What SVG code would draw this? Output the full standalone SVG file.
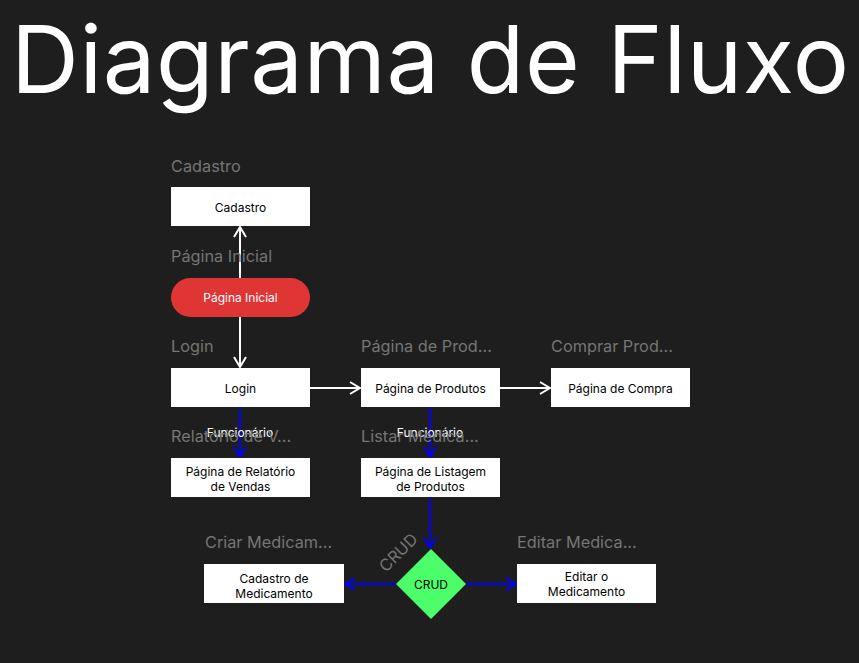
<svg xmlns="http://www.w3.org/2000/svg" width="859" height="663" viewBox="0 0 859 663">
<defs>
<style>
text{font-family:Inter,"Liberation Sans",sans-serif}
.title{font-size:94px;fill:#ffffff}
.cap{font-size:16.3px;fill:#757575}
.nt{font-size:12px;fill:#000000;text-anchor:middle}
.box{fill:#ffffff}
.w{stroke:#ffffff;stroke-width:2;fill:none}
.b{stroke:#0000ff;stroke-width:2;fill:none}
.el{font-size:12px;fill:#ffffff;text-anchor:middle}
</style>
<marker id="aw" viewBox="0 0 12 14" refX="11" refY="7" markerWidth="12" markerHeight="14" markerUnits="userSpaceOnUse" orient="auto">
<path d="M1,1 L11,7 L1,13" fill="none" stroke="#ffffff" stroke-width="2"/>
</marker>
<marker id="ab" viewBox="0 0 12 14" refX="11" refY="7" markerWidth="12" markerHeight="14" markerUnits="userSpaceOnUse" orient="auto">
<path d="M1,1 L11,7 L1,13" fill="none" stroke="#0000ff" stroke-width="2"/>
</marker>
</defs>
<rect width="859" height="663" fill="#1e1e1e"/>
<text class="title" x="11" y="93" textLength="838" lengthAdjust="spacing">Diagrama de Fluxo</text>

<g id="connectors">
<line class="w" x1="240" y1="278" x2="240" y2="227" marker-end="url(#aw)"/>
<line class="w" x1="240" y1="317" x2="240" y2="367" marker-end="url(#aw)"/>
<line class="w" x1="310" y1="388" x2="360" y2="388" marker-end="url(#aw)"/>
<line class="w" x1="500" y1="388" x2="550" y2="388" marker-end="url(#aw)"/>
<line class="b" x1="240" y1="407" x2="240" y2="457" marker-end="url(#ab)"/>
<line class="b" x1="430" y1="407" x2="430" y2="457" marker-end="url(#ab)"/>
<line class="b" x1="430" y1="497" x2="430" y2="548" marker-end="url(#ab)"/>
<line class="b" x1="396" y1="584" x2="345" y2="584" marker-end="url(#ab)"/>
<line class="b" x1="466" y1="584" x2="516" y2="584" marker-end="url(#ab)"/>
<text class="el" x="240" y="437">Funcionário</text>
<text class="el" x="430" y="437">Funcionário</text>
</g>

<g id="cadastro">
<text class="cap" x="171" y="172">Cadastro</text>
<rect class="box" x="171" y="187" width="139" height="39"/>
<text class="nt" x="240.5" y="212">Cadastro</text>
</g>

<g id="pagina-inicial">
<text class="cap" x="171" y="262">Página Inicial</text>
<rect x="171" y="278" width="139" height="39" rx="19.5" fill="#e03535"/>
<text class="nt" x="240.5" y="302" style="fill:#ffffff">Página Inicial</text>
</g>

<g id="login">
<text class="cap" x="171" y="352">Login</text>
<rect class="box" x="171" y="368" width="139" height="39"/>
<text class="nt" x="240.5" y="393">Login</text>
</g>

<g id="pagina-produtos">
<text class="cap" x="361" y="352">Página de Prod...</text>
<rect class="box" x="361" y="368" width="139" height="39"/>
<text class="nt" x="430.5" y="393">Página de Produtos</text>
</g>

<g id="pagina-compra">
<text class="cap" x="551" y="352">Comprar Prod...</text>
<rect class="box" x="551" y="368" width="139" height="39"/>
<text class="nt" x="620.5" y="393">Página de Compra</text>
</g>

<g id="relatorio">
<text class="cap" x="171" y="442">Relatório de V...</text>
<rect class="box" x="171" y="458" width="139" height="39"/>
<text class="nt" x="240.5" y="476">Página de Relatório</text>
<text class="nt" x="240.5" y="491">de Vendas</text>
</g>

<g id="listagem">
<text class="cap" x="361" y="442">Listar Medica...</text>
<rect class="box" x="361" y="458" width="139" height="39"/>
<text class="nt" x="430.5" y="476">Página de Listagem</text>
<text class="nt" x="430.5" y="491">de Produtos</text>
</g>

<g id="crud">
<text class="cap" transform="translate(386,573) rotate(-45)">CRUD</text>
<polygon points="431,549 466,584 431,619 396,584" fill="#4cfe6a"/>
<text class="nt" x="431" y="589">CRUD</text>
</g>

<g id="cadastro-medicamento">
<text class="cap" x="205" y="548">Criar Medicam...</text>
<rect class="box" x="204" y="564" width="140" height="39"/>
<text class="nt" x="274" y="583">Cadastro de</text>
<text class="nt" x="274" y="598">Medicamento</text>
</g>

<g id="editar-medicamento">
<text class="cap" x="517" y="548">Editar Medica...</text>
<rect class="box" x="517" y="564" width="139" height="39"/>
<text class="nt" x="586.5" y="581">Editar o</text>
<text class="nt" x="586.5" y="596">Medicamento</text>
</g>
</svg>
